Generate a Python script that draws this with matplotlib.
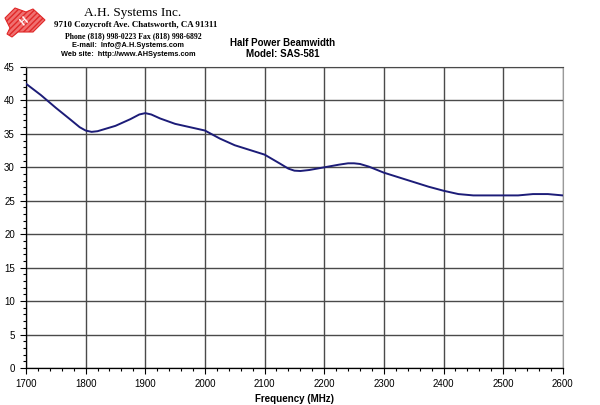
import numpy as np
import matplotlib.pyplot as plt
from matplotlib.patches import Polygon
from matplotlib.ticker import MultipleLocator

plt.rcParams['font.family'] = ['Liberation Sans', 'DejaVu Sans']

# beamwidth
freq = [1700, 1725, 1750, 1775, 1790, 1800, 1810, 1820, 1850, 1875, 1890,
        1900, 1910, 1925, 1950, 1975, 2000, 2025, 2050, 2075, 2100, 2125,
        2140, 2150, 2160, 2175, 2200, 2225, 2240, 2250, 2260, 2275, 2300,
        2325, 2350, 2375, 2400, 2425, 2450, 2500, 2525, 2550, 2575, 2600]
beamwidth = [42.5, 40.8, 38.9, 37.1, 36.0, 35.5, 35.3, 35.4, 36.2, 37.2, 37.9,
             38.1, 37.9, 37.3, 36.5, 36.0, 35.5, 34.3, 33.3, 32.6, 31.9, 30.6,
             29.8, 29.5, 29.45, 29.6, 30.0, 30.4, 30.6, 30.6, 30.5, 30.1, 29.2,
             28.5, 27.8, 27.1, 26.5, 26.0, 25.8, 25.8, 25.8, 26.0, 26.0, 25.8]

fig = plt.figure(figsize=(6, 4.05), dpi=100)
ax = fig.add_axes([0.0433, 0.0914, 0.8947, 0.7432])

ax.plot(freq, beamwidth, color='#1c1c78', lw=1.4, zorder=3)

ax.set_xlim(1700, 2600)
ax.set_ylim(0, 45)
ax.xaxis.set_major_locator(MultipleLocator(100))
ax.xaxis.set_minor_locator(MultipleLocator(20))
ax.yaxis.set_major_locator(MultipleLocator(5))
ax.yaxis.set_minor_locator(MultipleLocator(1))
ax.grid(True, which='major', color='#4a4a4a', lw=1.0)
ax.tick_params(which='major', direction='out', length=4, width=0.8,
               labelsize=7, pad=4)
ax.tick_params(which='minor', direction='out', length=2, width=0.8)
for s in ['left', 'bottom']:
    ax.spines[s].set_color('black')
    ax.spines[s].set_linewidth(0.9)
ax.spines['right'].set_color('#9a9a9a')
ax.spines['top'].set_color('#4a4a4a')

ax.set_xlabel('Frequency (MHz)', fontsize=7, fontweight='bold')
ax.xaxis.set_label_coords(0.5, -0.085)

# header
fig.text(133/600, 1 - 13/405, 'A.H. Systems Inc.', family='Liberation Serif',
         fontsize=9.5, ha='center', va='center')
fig.text(136/600, 1 - 25/405, '9710 Cozycroft Ave. Chatsworth, CA 91311',
         family='Liberation Serif', fontsize=6.4, fontweight='bold',
         ha='center', va='center')
fig.text(133/600, 1 - 36/405, 'Phone (818) 998-0223 Fax (818) 998-6892',
         family='Liberation Serif', fontsize=5.6, fontweight='bold',
         ha='center', va='center')
fig.text(128/600, 1 - 45.5/405, 'E-mail:  Info@A.H.Systems.com',
         fontsize=5.3, fontweight='bold', ha='center', va='center')
fig.text(128/600, 1 - 54.5/405, 'Web site:  http://www.AHSystems.com',
         fontsize=5.3, fontweight='bold', ha='center', va='center')

fig.text(283/600, 1 - 43/405, 'Half Power Beamwidth', fontsize=7,
         fontweight='bold', ha='center', va='center')
fig.text(283/600, 1 - 54/405, 'Model: SAS-581', fontsize=7,
         fontweight='bold', ha='center', va='center')

# logo
logo_px = np.array([[5, 18], [15, 8], [26, 12], [33, 9], [45, 20], [33, 32],
                    [18, 32], [12, 37], [7, 34], [10, 28]], dtype=float)
logo = Polygon(logo_px * [1, -1] + [0, 405], closed=True, transform=None,
               facecolor='#f07070', edgecolor='#e02828', hatch='//////',
               lw=0.8)
fig.patches.append(logo)
fig.text(24/600, 1 - 21/405, 'H', color='white', fontsize=7,
         fontweight='bold', ha='center', va='center', rotation=40)

fig.savefig('out.png', dpi=100)
